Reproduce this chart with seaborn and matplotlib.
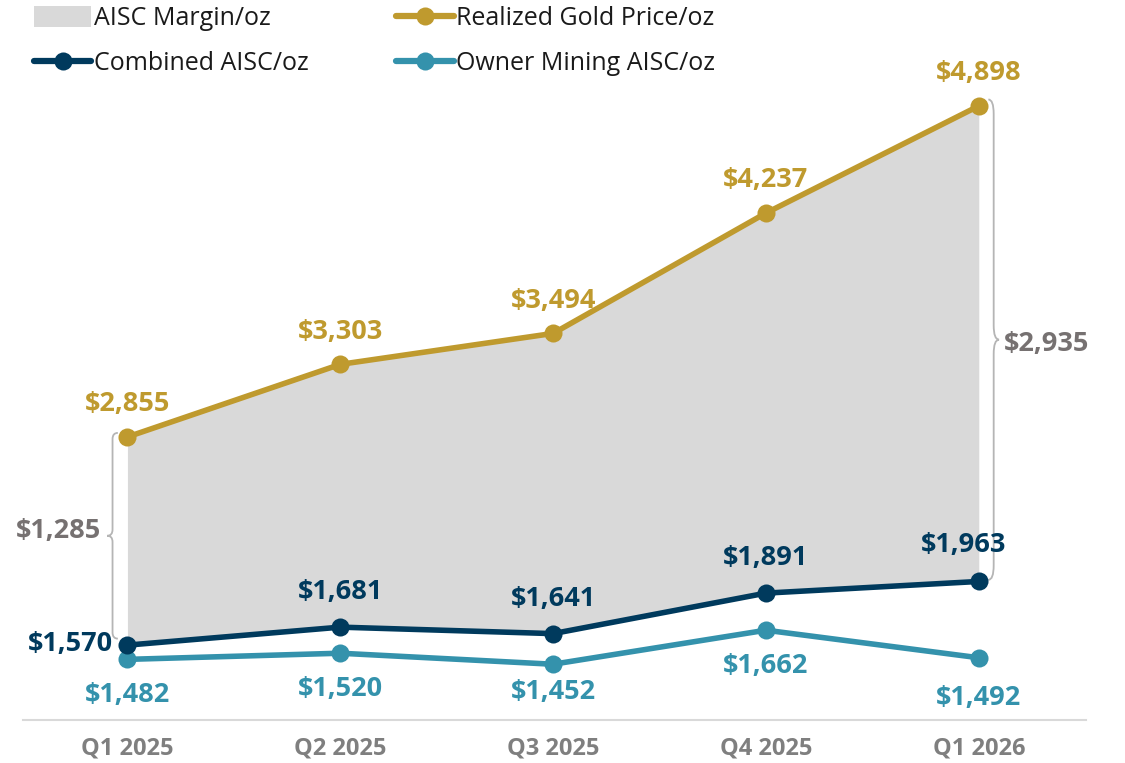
import numpy as np
import pandas as pd
import matplotlib
matplotlib.use("Agg")
import matplotlib.pyplot as plt
from matplotlib.path import Path
from matplotlib.patches import PathPatch, Patch
from matplotlib.lines import Line2D
import seaborn as sns

# ---------- Data ----------
quarters = ["Q1 2025", "Q2 2025", "Q3 2025", "Q4 2025", "Q1 2026"]
gold_price = [2855, 3303, 3494, 4237, 4898]
combined_aisc = [1570, 1681, 1641, 1891, 1963]
owner_aisc = [1482, 1520, 1452, 1662, 1492]
margin_labels = ["$1,285", "$2,935"]  # first and last quarter

# ---------- Style ----------
GOLD = "#BF9A2E"
NAVY = "#003A5D"
TEAL = "#3492AC"
FILL = "#D9D9D9"
GREY = "#767171"
BRACE = "#B5B5B5"

sns.set_style("white")
plt.rcParams["font.family"] = ["Open Sans", "DejaVu Sans"]

df = pd.DataFrame({
    "x": np.arange(len(quarters)),
    "gold": gold_price,
    "combined": combined_aisc,
    "owner": owner_aisc,
})

fig = plt.figure(figsize=(11.25, 7.63), dpi=100)
ax = fig.add_axes([0.02, 0.0564, 0.945, 0.9436])

# margin area
ax.fill_between(df["x"], df["combined"], df["gold"], color=FILL, linewidth=0, zorder=1)

line_kw = dict(linewidth=4, marker="o", markersize=13, markeredgewidth=0, zorder=3)
sns.lineplot(data=df, x="x", y="owner", color=TEAL, ax=ax, **line_kw)
sns.lineplot(data=df, x="x", y="combined", color=NAVY, ax=ax, **line_kw)
sns.lineplot(data=df, x="x", y="gold", color=GOLD, ax=ax, **line_kw)

ax.set_xlim(-0.493, 4.502)
ax.set_ylim(1108, 5552)

# ---------- Data labels ----------
lab_kw = dict(fontsize=19.5, fontweight="bold", ha="center", va="center")
for i, v in enumerate(gold_price):
    ax.annotate(f"${v:,}", (i, v), xytext=(0, 23.5), textcoords="offset points",
                color=GOLD, **lab_kw)
for i, v in enumerate(combined_aisc):
    if i == 0:
        ax.annotate(f"${v:,}", (i, v), xytext=(-41, 1), textcoords="offset points",
                    color=NAVY, **lab_kw)
    elif i == 4:
        ax.annotate(f"${v:,}", (i, v), xytext=(-11, 26.5), textcoords="offset points",
                    color=NAVY, **lab_kw)
    else:
        ax.annotate(f"${v:,}", (i, v), xytext=(0, 25), textcoords="offset points",
                    color=NAVY, **lab_kw)
owner_offsets = [-25.5, -25.5, -20, -26, -29]
for i, v in enumerate(owner_aisc):
    ax.annotate(f"${v:,}", (i, v), xytext=(0, owner_offsets[i]), textcoords="offset points",
                color=TEAL, **lab_kw)


# ---------- Braces ----------
def brace(ax, x, y0, y1, width, direction):
    # curly brace from y0 to y1 at x; direction +1 tip right, -1 tip left
    ym = (y0 + y1) / 2
    w = width * direction
    h = (y1 - y0) * 0.03
    verts = [
        (x, y0), (x + w * 0.5, y0), (x + w * 0.5, y0 + h),
        (x + w * 0.5, ym - h), (x + w * 0.5, ym), (x + w, ym),
        (x + w * 0.5, ym), (x + w * 0.5, ym + h),
        (x + w * 0.5, y1 - h), (x + w * 0.5, y1), (x, y1),
    ]
    codes = [Path.MOVETO, Path.CURVE3, Path.CURVE3,
             Path.LINETO, Path.CURVE3, Path.CURVE3,
             Path.CURVE3, Path.CURVE3,
             Path.LINETO, Path.CURVE3, Path.CURVE3]
    ax.add_patch(PathPatch(Path(verts, codes), fill=False, edgecolor=BRACE,
                           linewidth=1.3, zorder=2))


brace(ax, -0.045, combined_aisc[0] + 40, gold_price[0] + 25, 0.05, -1)
brace(ax, 4.045, combined_aisc[-1] + 10, gold_price[-1] + 40, 0.05, 1)
ax.text(-0.325, (combined_aisc[0] + gold_price[0]) / 2 + 60, margin_labels[0],
        color=GREY, fontsize=19.5, fontweight="bold", ha="center", va="center")
ax.text(4.32, (combined_aisc[-1] + gold_price[-1]) / 2, margin_labels[1],
        color=GREY, fontsize=19.5, fontweight="bold", ha="center", va="center")

# ---------- Axes ----------
ax.set_xticks(range(len(quarters)))
ax.set_xticklabels(quarters, fontsize=17, fontweight="bold", color="#7F7F7F")
ax.tick_params(axis="x", length=0, pad=12)
ax.set_yticks([])
ax.set_xlabel("")
ax.set_ylabel("")
for s in ["top", "right", "left"]:
    ax.spines[s].set_visible(False)
ax.spines["bottom"].set_color("#D9D9D9")
ax.spines["bottom"].set_linewidth(1.5)

# ---------- Legend ----------
handles = [
    Patch(facecolor=FILL, edgecolor="none", label="AISC Margin/oz"),
    Line2D([], [], color=NAVY, lw=4.5, marker="o", ms=13, mew=0, label="Combined AISC/oz"),
    Line2D([], [], color=GOLD, lw=4.5, marker="o", ms=13, mew=0, label="Realized Gold Price/oz"),
    Line2D([], [], color=TEAL, lw=4.5, marker="o", ms=13, mew=0, label="Owner Mining AISC/oz"),
]
fig.legend(handles=handles, ncol=2, loc="upper left", bbox_to_anchor=(0.01, 1.021),
           frameon=False, fontsize=18, handlelength=2.3, handleheight=0.9,
           handletextpad=0.1, columnspacing=3.5, labelspacing=0.8,
           labelcolor="#1A1A1A")

fig.savefig("out.png", dpi=100)
